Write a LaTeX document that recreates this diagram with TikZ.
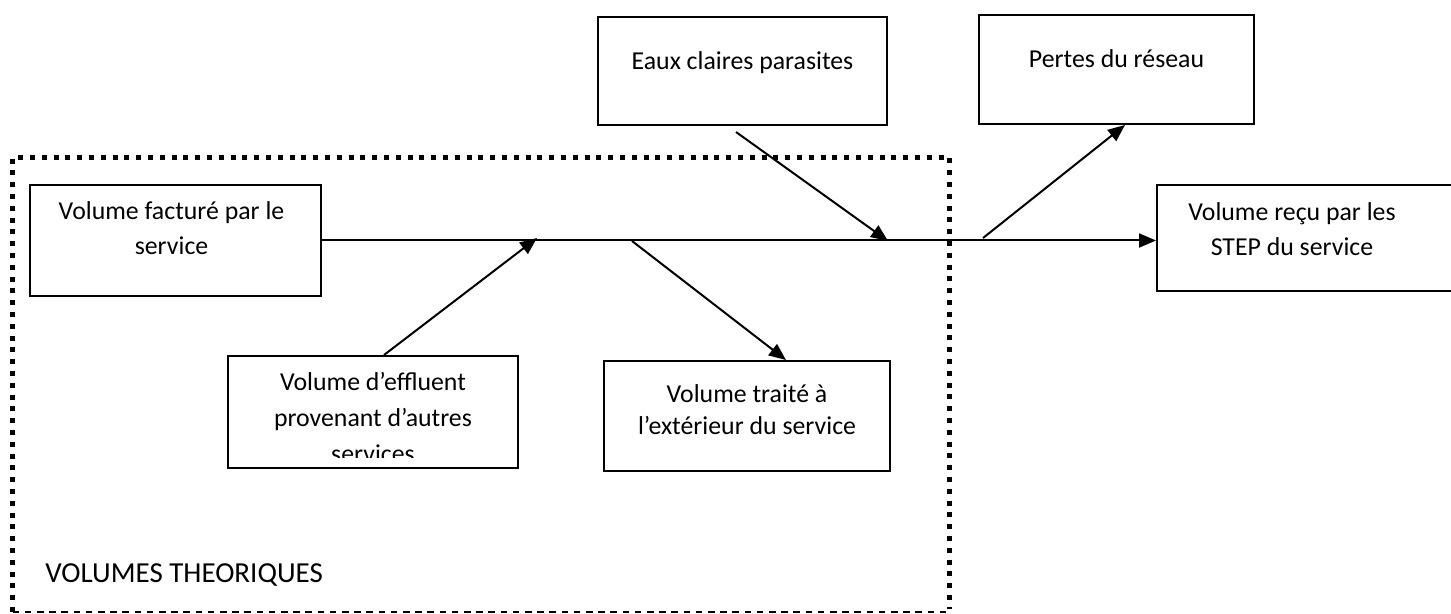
\documentclass[tikz,border=0pt]{standalone}
\usepackage{fontspec}
\setmainfont{Carlito}
\usetikzlibrary{positioning,arrows.meta}

\begin{document}
\begin{tikzpicture}[x=0.5pt,y=-0.5pt,
		boite/.style={draw,line width=1pt,inner sep=0pt,anchor=north west},
		texte/.style={inner sep=0pt,align=center,font=\fontsize{12.9}{17.5}\selectfont,execute at begin node={\strut}},
		fleche/.style={line width=1pt,-{Triangle[length=8.5pt,width=7pt]}},
		cadre/.style={line width=2.5pt,dash pattern=on 2.5pt off 3.4pt},
		cadrebas/.style={line width=1.3pt,dash pattern=on 3.3pt off 2.8pt}]
		\useasboundingbox (0,0) rectangle (1451,614);
		\clip (0,0) rectangle (1451,614);
		% les boites
		\node[boite,minimum width=145.5pt,minimum height=55.5pt] (fact) at (29,184) {};
		\node[boite,minimum width=145pt,minimum height=56pt] (effl) at (227,355) {};
		\node[boite,minimum width=143pt,minimum height=55pt] (trait) at (603,360) {};
		\node[boite,minimum width=144.5pt,minimum height=54pt] (eaux) at (597,16) {};
		\node[boite,minimum width=137.5pt,minimum height=54.5pt] (pertes) at (978,14) {};
		\node[boite,minimum width=157pt,minimum height=53pt] (recu) at (1156,184) {};
		% les textes
		\node[texte,below=8.5pt of fact.north,xshift=-2pt] (fact-t) {Volume facturé par le\\service};
		\begin{scope}
			\clip (effl.north west) rectangle ([yshift=5.5pt]effl.south east);
			\node[texte,below=8.5pt of effl.north,font=\fontsize{12.9}{18}\selectfont] (effl-t) {Volume d’effluent\\provenant d’autres\\services};
		\end{scope}
		\node[texte,below=12pt of trait.north,font=\fontsize{12.9}{16}\selectfont] (trait-t) {Volume traité à\\l’extérieur du service};
		\node[texte,below=14.5pt of eaux.north] (eaux-t) {Eaux claires parasites};
		\node[texte,below=14.5pt of pertes.north] (pertes-t) {Pertes du réseau};
		\node[texte,below=9pt of recu.north,xshift=-11pt] (recu-t) {Volume reçu par les\\STEP du service};
		% les fleches
		\coordinate (j-effl) at (537,238);
		\coordinate (j-trait) at (632,241);
		\coordinate (j-eaux) at (888,241);
		\coordinate (j-pertes) at (983,238);
		\draw[fleche] (fact.east) -- (recu.west |- fact.east);
		\draw[fleche] ([xshift=5.5pt]effl.north) -- (j-effl);
		\draw[fleche] (j-trait) -- ([xshift=19.5pt]trait.north);
		\draw[fleche] ([xshift=-3.25pt,yshift=-3pt]eaux.south) -- (j-eaux);
		\draw[fleche] (j-pertes) -- ([xshift=4.25pt]pertes.south);
		% le cadre des volumes theoriques
		\draw[cadre] (12.5,612) -- (12.5,157.5) -- (949.5,157.5) -- (949.5,609);
		\draw[cadrebas] (12.5,612) -- (949.5,612);
		\node[anchor=base west,inner sep=0pt,font=\fontsize{14.5}{17}\selectfont] (theo) at (45,582) {VOLUMES THEORIQUES};
	\end{tikzpicture}
\end{document}
